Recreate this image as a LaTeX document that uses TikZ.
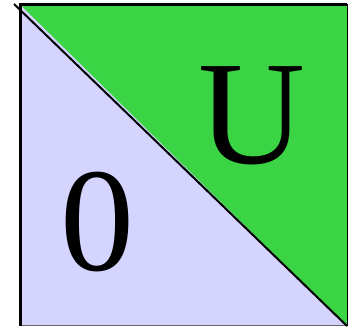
\documentclass[tikz,border=0pt]{standalone}
\usepackage{fontspec}
\setmainfont{Liberation Serif}
\definecolor{lowfill}{RGB}{212,212,255}
\definecolor{upfill}{RGB}{59,212,68}
\tikzset{
  thickedge/.style={line width=3pt, black},
  thinedge/.style={line width=1pt, black},
  bigletter/.style={inner sep=0pt, font=\fontsize{148}{148}\selectfont}
}
\begin{document}
\begin{tikzpicture}[x=1pt,y=-1pt]
\useasboundingbox (0,0) rectangle (349,328);
\coordinate (tl) at (20,4.5);
\coordinate (tr) at (347,4.5);
\coordinate (br) at (347,326);
\coordinate (bl) at (20,326);
\coordinate (ds) at (14,4);
\fill[lowfill] (tl) -- (tr) -- (br) -- (bl) -- cycle;
\fill[upfill] (tl) -- (tr) -- (br) -- cycle;
\draw[thinedge] (tr) -- (br);
\draw[thinedge, black!60] (bl) -- (br);
\draw[line width=2pt] (ds) -- (br);
\draw[thickedge] (bl) -- (tl);
\draw[thickedge] ([xshift=-1.5pt]tl) -- (tr);
\node[bigletter] (u) at (251.5,116) {U};
\node[bigletter] (z) at (97.5,222.5) {0};
\end{tikzpicture}
\end{document}
